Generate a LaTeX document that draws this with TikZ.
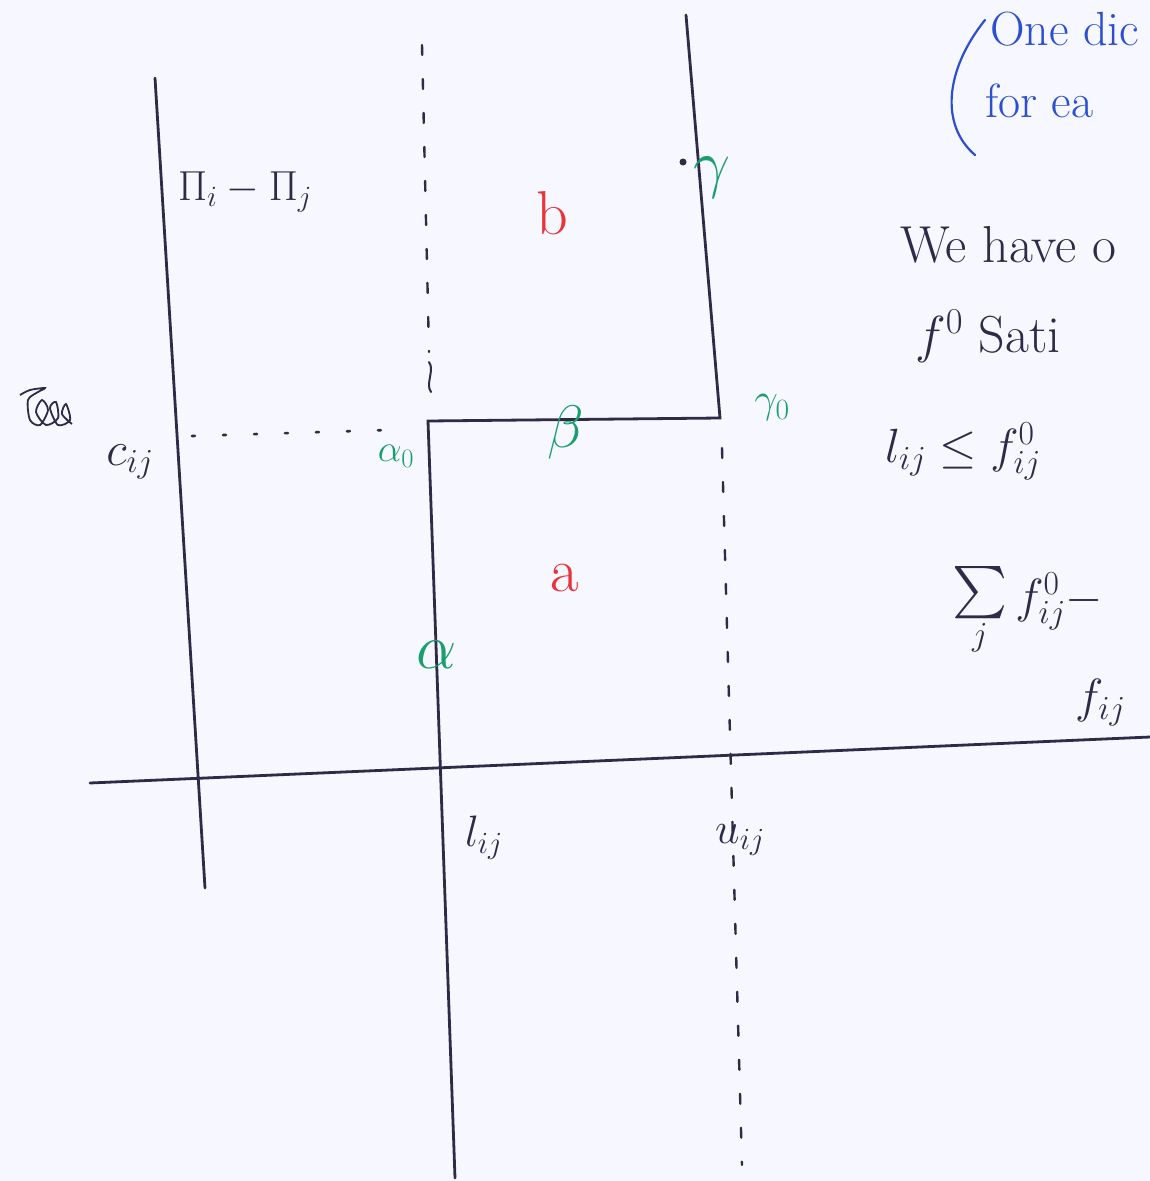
\RequirePackage{fix-cm}
\documentclass[tikz,border=0pt]{standalone}
\usepackage{amsmath}
\usepackage{graphicx}
\definecolor{ink}{HTML}{2E2A48}
\definecolor{grn}{HTML}{1A9E6E}
\definecolor{rd}{HTML}{E8333A}
\definecolor{blu}{HTML}{2A4FD0}
\tikzset{
  pen/.style={draw=ink, line width=2.8pt, line cap=round},
  dashpen/.style={draw=ink, line width=2.4pt, line cap=round, dash pattern=on 10pt off 24pt},
  dotpen/.style={draw=ink, line width=2.6pt, line cap=round, dash pattern=on 3pt off 28pt},
  lbl/.style={text=ink, inner sep=0pt},
  glbl/.style={text=grn, inner sep=0pt},
  rlbl/.style={text=rd, inner sep=0pt},
  txt/.style={text=ink, inner sep=0pt, anchor=base west},
  btxt/.style={text=blu, inner sep=0pt, anchor=base west}
}
\begin{document}
\begin{tikzpicture}[x=1pt,y=-1pt]
\fill[white!97!blue] (0,0) rectangle (1150,1181);
\useasboundingbox (0,0) rectangle (1150,1181);
\clip (0,0) rectangle (1150,1181);
% key points
\coordinate (Ltop) at (155,78);
\coordinate (Lbot) at (205,888);
\coordinate (Xl) at (90,783);
\coordinate (Xr) at (1150,737);
\coordinate (A0) at (428,421);
\coordinate (Abot) at (455,1178);
\coordinate (G0) at (720,418);
\coordinate (Gtop) at (686,15);
\coordinate (Dt1) at (422,45);
\coordinate (Dt2) at (429,352);
\coordinate (Db1) at (722,448);
\coordinate (Db2) at (742,1165);
\coordinate (Cd1) at (192,436);
\coordinate (Cd2) at (388,430);
% lines
\draw[pen] (Ltop) -- (Lbot);
\draw[pen] (Xl) -- (Xr);
\draw[pen] (Abot) -- (A0) -- (G0) -- (Gtop);
\draw[dashpen] (Dt1) -- (Dt2);
\draw[pen, line width=2pt] (Dt2) ++(0,10) .. controls +(6,8) and +(-6,-8) .. ++(2,30);
\draw[dashpen] (Db1) -- (Db2);
\draw[dotpen] (Cd1) -- (Cd2);
% scribble
\draw[ink, line width=1.8pt] plot[smooth] coordinates {(20,395) (30,390) (45,388) (38,392) (28,400) (30,420) (40,425) (48,410) (42,400) (36,412) (46,425) (58,418) (56,402) (50,408) (58,425) (70,420) (66,404) (62,414) (72,424)};
% labels
\node[lbl, font=\fontsize{42}{44}\selectfont] (pi) at (245,192) {$\Pi_i - \Pi_j$};
\node[lbl, font=\fontsize{48}{50}\selectfont] (cij) at (130,462) {$c_{ij}$};
\node[glbl, font=\fontsize{38}{40}\selectfont] (a0) at (396,456) {$\alpha_0$};
\node[glbl, font=\fontsize{60}{62}\selectfont] (beta) at (566,432) {$\beta$};
\node[glbl, font=\fontsize{42}{44}\selectfont] (g0) at (772,408) {$\gamma_0$};
\node[glbl, font=\fontsize{66}{68}\selectfont] (gam) at (712,178) {$\gamma$};
\fill[ink] (683,162) circle (3.5pt);
\node[glbl, font=\fontsize{64}{66}\selectfont] (alp) at (437,655) {$\alpha$};
\node[rlbl, font=\fontsize{62}{64}\selectfont] (b) at (552,213) {b};
\node[rlbl, font=\fontsize{62}{64}\selectfont] (a) at (565,578) {a};
\node[lbl, font=\fontsize{44}{46}\selectfont] (lij) at (484,838) {$l_{ij}$};
\node[lbl, font=\fontsize{44}{46}\selectfont] (uij) at (740,840) {$u_{ij}$};
% right text
\node[txt, font=\fontsize{52}{54}\selectfont] (t1) at (900,262) {We have o};
\node[txt, font=\fontsize{52}{54}\selectfont] (t2) at (915,352) {$f^0$ Sati};
\node[txt, font=\fontsize{48}{50}\selectfont] (t3) at (885,462) {$l_{ij} \le f^0_{ij}$};
\node[txt, font=\fontsize{48}{50}\selectfont] (t4) at (952,612) {$\underset{j}{\raisebox{-6pt}{\scalebox{2.1}{$\sum$}}}\, f^0_{ij} -$};
\node[txt, font=\fontsize{48}{50}\selectfont] (t5) at (1075,712) {$f_{ij}$};
% blue note
\draw[blu, line width=2.2pt, line cap=round] (985,20) .. controls (945,70) and (940,125) .. (975,155);
\node[btxt, font=\fontsize{48}{50}\selectfont] (n1) at (990,45) {One dic};
\node[btxt, font=\fontsize{48}{50}\selectfont] (n2) at (985,117) {for ea};
\end{tikzpicture}
\end{document}
